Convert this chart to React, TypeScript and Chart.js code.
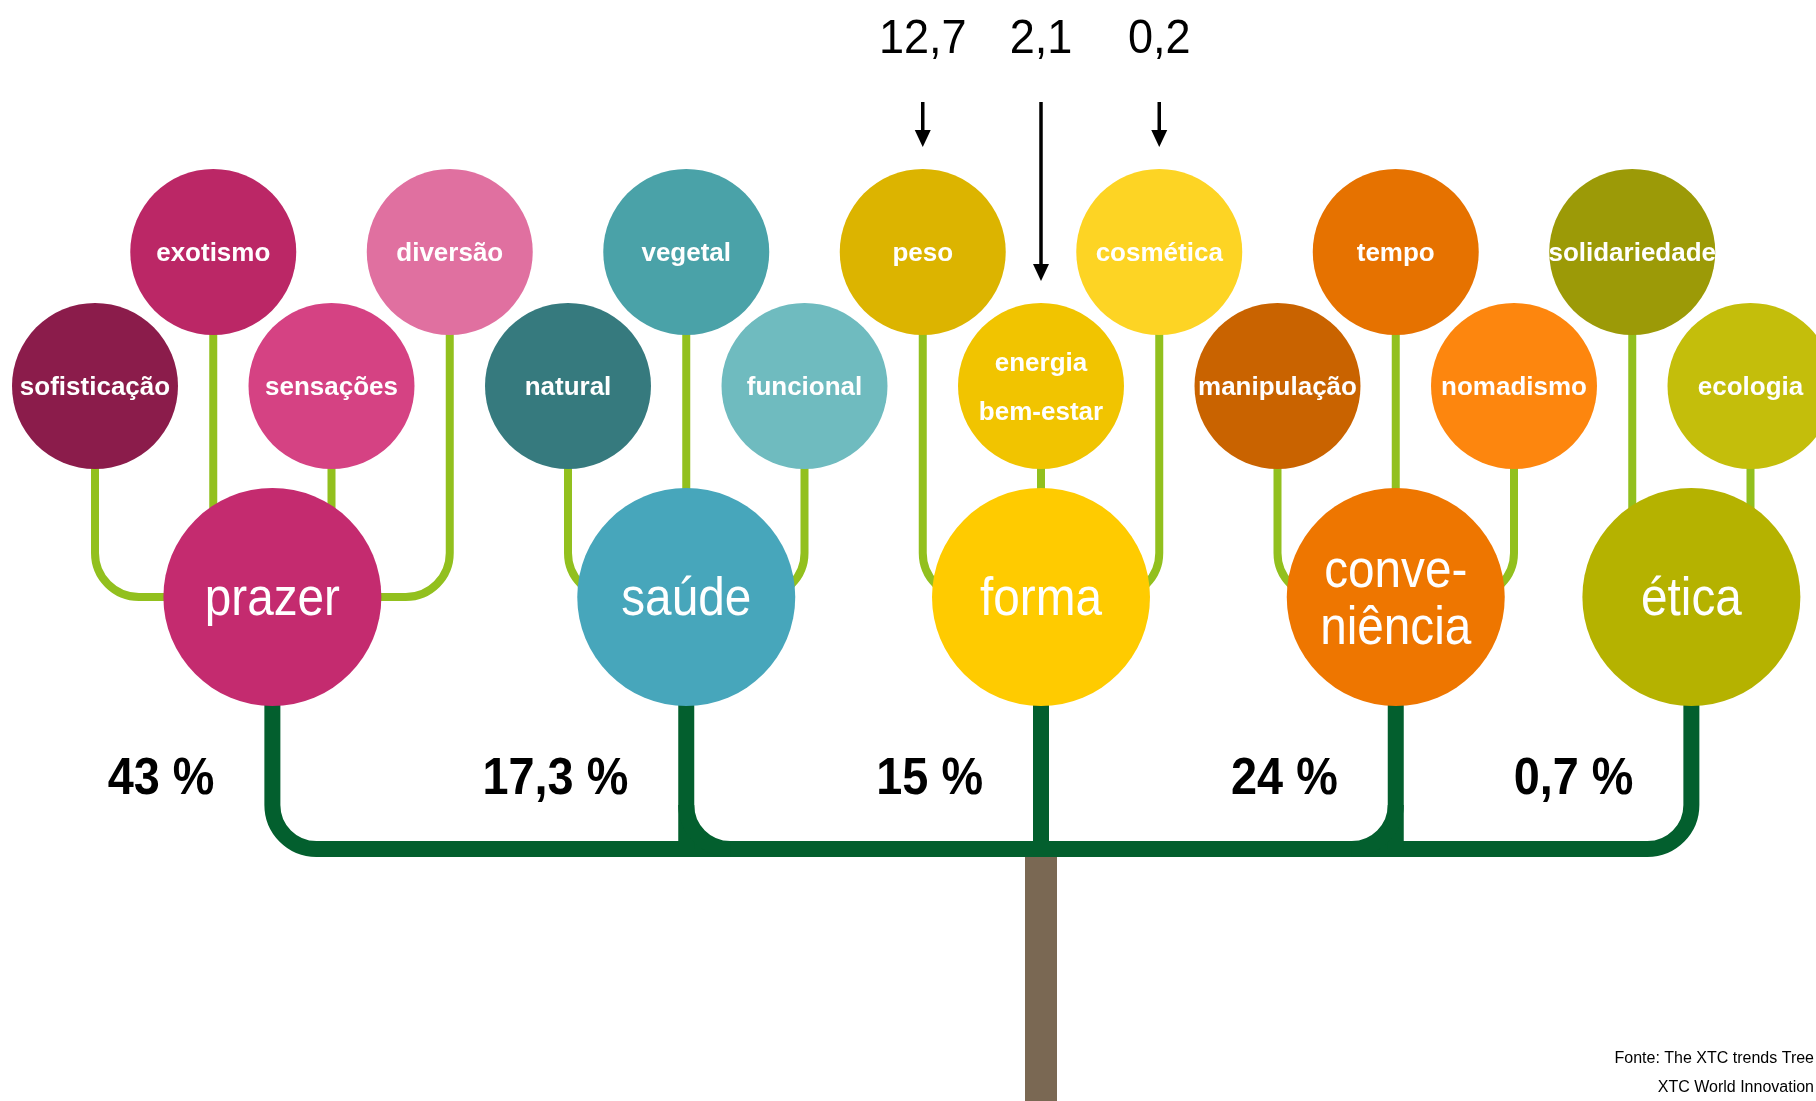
import React, { useEffect, useRef } from "react";
import { Chart, registerables } from "chart.js";

Chart.register(...registerables);

// ---- data ----
const mainTrends = ["prazer", "saúde", "forma", "conve-\nniência", "ética"];
const mainShares = [43, 17.3, 15, 24, 0.7];
const subTrends = [
  "sofisticação", "exotismo", "sensações", "diversão",
  "natural", "vegetal", "funcional",
  "peso", "energia\nbem-estar", "cosmética",
  "manipulação", "tempo", "nomadismo",
  "solidariedade", "ecologia",
];
const subTrendParent = [0, 0, 0, 0, 1, 1, 1, 2, 2, 2, 3, 3, 3, 4, 4];
const formaBreakdown = ["peso", "energia\nbem-estar", "cosmética"];
const formaBreakdownValues = [12.7, 2.1, 0.2];
const sourceLines = ["Fonte: The XTC trends Tree", "XTC World Innovation"];

// ---- styles ----
const mainColors = ["#c42b6f", "#47a6bb", "#ffcb00", "#ee7600", "#b5b200"];
const subColors = [
  "#8b1c4b", "#bb2766", "#d54283", "#e070a0",
  "#367a7e", "#4aa2a8", "#6fbbbf",
  "#dcb400", "#f1c400", "#fdd424",
  "#c96300", "#e67200", "#fd860e",
  "#9c9a07", "#c4be0b",
];
const W = 1816;
const H = 1101;
const COL_PX = 236.5;
const COL0_PX = 95;
const UPPER_Y = 252;
const LOWER_Y = 386;
const MAIN_Y = 597;
const BAR_Y = 849;
const R_SUB = 83;
const R_MAIN = 109;
const FONT = "'Liberation Sans', Arial, sans-serif";

const fmt = (v: number) => String(v).replace(".", ",");

const subCol = subTrends.map((_, i) => i / 2);
const subRow = subTrends.map((_, i) => (i % 2 === 0 ? LOWER_Y : UPPER_Y));
const mainCol = mainTrends.map((_, m) => {
  const cols = subCol.filter((_, i) => subTrendParent[i] === m);
  return cols.reduce((a, b) => a + b, 0) / cols.length;
});
const trunkIndex = Math.floor(mainTrends.length / 2);

function drawScaledText(ctx: CanvasRenderingContext2D, text: string, x: number, y: number, sx: number, align: CanvasTextAlign) {
  ctx.save();
  ctx.translate(x, y);
  ctx.scale(sx, 1);
  ctx.textAlign = align;
  ctx.fillText(text, 0, 0);
  ctx.restore();
}

const treePlugin = {
  id: "treePlugin",
  beforeDatasetsDraw(chart: any) {
    const { ctx, scales } = chart;
    const px = (v: number) => scales.x.getPixelForValue(v);
    const py = (v: number) => scales.y.getPixelForValue(v);
    const mainY = py(MAIN_Y);
    const barY = py(BAR_Y);

    // trunk
    const tx = px(mainCol[trunkIndex]);
    ctx.save();
    ctx.fillStyle = "#7a6853";
    ctx.fillRect(tx - 16, barY, 32, py(H) - barY);

    // light green stems
    ctx.strokeStyle = "#92c01e";
    ctx.lineWidth = 8;
    ctx.lineCap = "butt";
    const rr = 44;
    subTrends.forEach((_, i) => {
      const cx = px(subCol[i]);
      const cy = py(subRow[i]);
      const mx = px(mainCol[subTrendParent[i]]);
      ctx.beginPath();
      ctx.moveTo(cx, cy);
      if (Math.abs(cx - mx) > R_MAIN - 10) {
        const dir = mx > cx ? 1 : -1;
        ctx.lineTo(cx, mainY - rr);
        ctx.arcTo(cx, mainY, cx + dir * rr, mainY, rr);
        ctx.lineTo(mx, mainY);
      } else {
        ctx.lineTo(cx, mainY);
      }
      ctx.stroke();
    });

    // dark green branches
    ctx.strokeStyle = "#035f2e";
    ctx.lineWidth = 16;
    const rb = 44;
    const m0 = px(mainCol[0]);
    const mL = px(mainCol[mainCol.length - 1]);
    ctx.beginPath();
    ctx.moveTo(m0, mainY);
    ctx.lineTo(m0, barY - rb);
    ctx.arcTo(m0, barY, m0 + rb, barY, rb);
    ctx.lineTo(mL - rb, barY);
    ctx.arcTo(mL, barY, mL, barY - rb, rb);
    ctx.lineTo(mL, mainY);
    ctx.stroke();
    for (let m = 1; m < mainCol.length - 1; m++) {
      const mx = px(mainCol[m]);
      ctx.beginPath();
      ctx.moveTo(mx, mainY);
      ctx.lineTo(mx, barY);
      ctx.stroke();
      if (Math.abs(mx - tx) > 5) {
        const dir = tx > mx ? 1 : -1;
        ctx.beginPath();
        ctx.moveTo(mx, barY - rb);
        ctx.arcTo(mx, barY, mx + dir * rb, barY, rb);
        ctx.stroke();
      }
    }
    ctx.restore();
  },
  afterDatasetsDraw(chart: any) {
    const { ctx, scales } = chart;
    const px = (v: number) => scales.x.getPixelForValue(v);
    const py = (v: number) => scales.y.getPixelForValue(v);
    ctx.save();
    ctx.fillStyle = "#ffffff";
    ctx.textBaseline = "alphabetic";

    // sub trend labels
    ctx.font = `bold 26px ${FONT}`;
    subTrends.forEach((label, i) => {
      const lines = label.split("\n");
      const cx = px(subCol[i]);
      const cy = py(subRow[i]);
      lines.forEach((ln, k) => {
        drawScaledText(ctx, ln, cx, cy + 9 + (k - (lines.length - 1) / 2) * 49, 1, "center");
      });
    });

    // main trend labels
    ctx.font = `53px ${FONT}`;
    mainTrends.forEach((label, m) => {
      const lines = label.split("\n");
      const cx = px(mainCol[m]);
      const cy = py(MAIN_Y);
      lines.forEach((ln, k) => {
        drawScaledText(ctx, ln, cx, cy + 18 + (k - (lines.length - 1) / 2) * 57, 0.9, "center");
      });
    });

    // shares
    ctx.fillStyle = "#000000";
    ctx.font = `bold 52px ${FONT}`;
    mainShares.forEach((v, m) => {
      drawScaledText(ctx, `${fmt(v)} %`, px(mainCol[m]) - 58, py(794), 0.9, "right");
    });

    // forma breakdown numbers & arrows
    ctx.font = `49px ${FONT}`;
    formaBreakdown.forEach((name, j) => {
      const i = subTrends.indexOf(name);
      const cx = px(subCol[i]);
      drawScaledText(ctx, fmt(formaBreakdownValues[j]), cx, py(53), 0.92, "center");
      const tip = py(subRow[i] - R_SUB - 22);
      const start = py(102);
      ctx.strokeStyle = "#000000";
      ctx.lineWidth = 3.5;
      ctx.beginPath();
      ctx.moveTo(cx, start);
      ctx.lineTo(cx, tip - 14);
      ctx.stroke();
      ctx.beginPath();
      ctx.moveTo(cx - 8, tip - 17);
      ctx.lineTo(cx + 8, tip - 17);
      ctx.lineTo(cx, tip);
      ctx.closePath();
      ctx.fill();
    });

    // source
    ctx.font = `16px ${FONT}`;
    sourceLines.forEach((s, k) => {
      drawScaledText(ctx, s, px((W - COL0_PX) / COL_PX) - 2, py(1063 + k * 29), 1, "right");
    });
    ctx.restore();
  },
};

export default function App() {
  const ref = useRef<HTMLCanvasElement | null>(null);
  useEffect(() => {
    if (!ref.current) return;
    const chart = new Chart(ref.current, {
      type: "bubble",
      data: {
        datasets: [
          {
            label: "sub",
            data: subTrends.map((_, i) => ({ x: subCol[i], y: subRow[i], r: R_SUB })),
            backgroundColor: subColors,
            borderWidth: 0,
            hoverBorderWidth: 0,
          },
          {
            label: "main",
            data: mainTrends.map((_, m) => ({ x: mainCol[m], y: MAIN_Y, r: R_MAIN })),
            backgroundColor: mainColors,
            borderWidth: 0,
            hoverBorderWidth: 0,
          },
        ],
      },
      options: {
        animation: false,
        responsive: false,
        devicePixelRatio: 1,
        events: [],
        layout: { padding: 0, autoPadding: false },
        plugins: { legend: { display: false }, tooltip: { enabled: false } },
        scales: {
          x: { type: "linear", display: false, min: -COL0_PX / COL_PX, max: (W - COL0_PX) / COL_PX },
          y: { type: "linear", display: false, min: 0, max: H, reverse: true },
        },
      },
      plugins: [treePlugin],
    } as any);
    return () => chart.destroy();
  }, []);
  return (
    <div style={{ position: "fixed", left: 0, top: 0, width: W, height: H, background: "#ffffff", overflow: "hidden" }}>
      <canvas ref={ref} width={W} height={H} style={{ width: W, height: H, display: "block" }} />
    </div>
  );
}
